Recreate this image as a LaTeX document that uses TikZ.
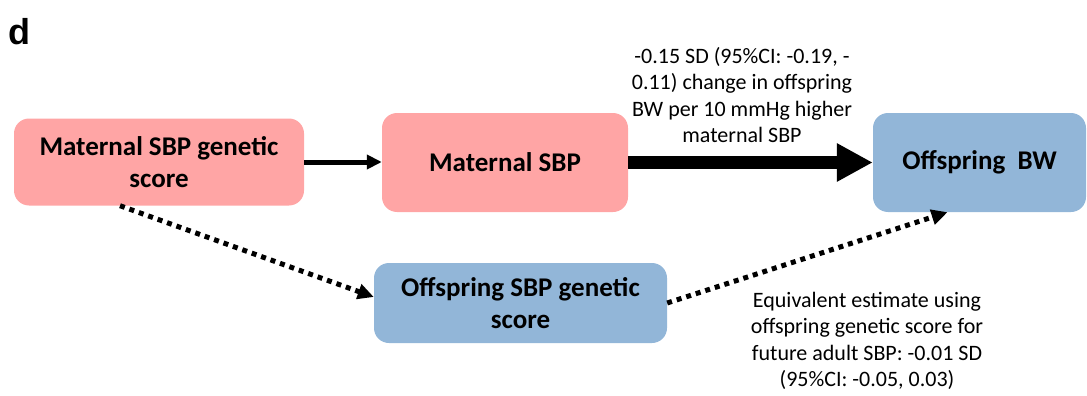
\documentclass[tikz,border=0pt]{standalone}
\usepackage{fontspec}
\setmainfont{Carlito}
\newfontfamily\panelfont{Liberation Sans}
\usetikzlibrary{arrows.meta, calc}

\definecolor{matpink}{HTML}{FFA5A5}
\definecolor{offblue}{HTML}{92B6D8}

\tikzset{
  box/.style={rounded corners=15pt, inner sep=0pt, align=center,
    font=\fontsize{27}{32}\selectfont\bfseries},
  note/.style={align=center, inner sep=0pt, font=\fontsize{22}{26.5}\selectfont},
  dotarrow/.style={line width=5pt, dash pattern=on 5pt off 5pt,
    -{Triangle[length=16pt,width=15pt]}}
}

\begin{document}
\begin{tikzpicture}[x=1pt, y=-1pt]
                \useasboundingbox (0,0) rectangle (1087,396);
                \node[anchor=base west, inner sep=0pt, font=\panelfont\fontsize{36}{36}\selectfont\bfseries] (lbl) at (8,45) {d};
                % boxes
                \node[box, fill=matpink, minimum width=290pt, minimum height=87pt] (matscore) at (159,162) {Maternal SBP genetic\\score};
                \node[box, fill=matpink, minimum width=246pt, minimum height=99pt] (matsbp) at (505,162.5) {Maternal SBP};
                \node[box, fill=offblue, minimum width=213pt, minimum height=99pt] (offbw) at (979.5,162.5) {Offspring\ \ BW};
                \node[box, fill=offblue, minimum width=293pt, minimum height=80pt] (offscore) at (520.5,303) {Offspring SBP genetic\\score};
                % arrows
                \draw[line width=5pt, -{Triangle[length=15pt,width=14pt]}] (matscore.east) -- (matscore.east -| matsbp.west);
                \draw[line width=13pt, -{Triangle[length=36pt,width=36pt]}] (matsbp.east) -- (offbw.west);
                \draw[dotarrow] ([xshift=-39pt]matscore.south) -- ([yshift=6pt]offscore.west);
                \draw[dotarrow] (offscore.east) -- ([xshift=-32pt]offbw.south);
                % labels
                \node[note] (toplbl) at (742,95) {-0.15 SD (95\%CI: -0.19, -\\0.11) change in offspring\\BW per 10 mmHg higher\\maternal SBP};
                \node[note] (botlbl) at (867,341) {Equivalent estimate using\\offspring genetic score for\\future adult SBP: -0.01 SD\\(95\%CI: -0.05, 0.03)};
\end{tikzpicture}
\end{document}
